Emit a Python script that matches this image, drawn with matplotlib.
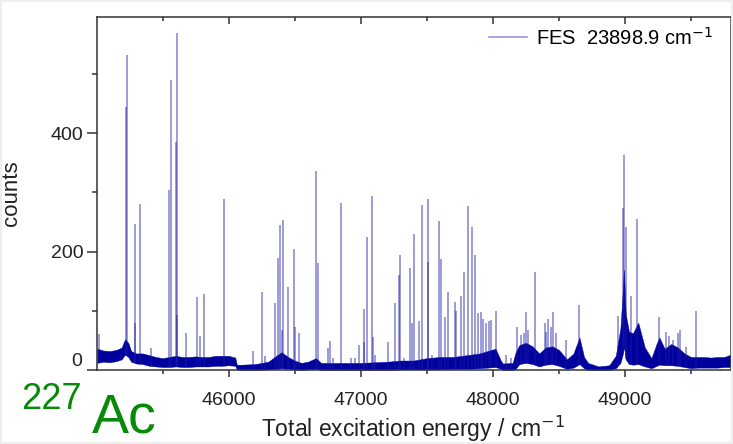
import numpy as np
import matplotlib
matplotlib.use("Agg")
import matplotlib.pyplot as plt
from matplotlib.lines import Line2D
from matplotlib.patches import Rectangle
from matplotlib.ticker import MultipleLocator, FuncFormatter

plt.rcParams['font.family'] = ['Liberation Sans', 'DejaVu Sans']

# ---- data ----
# noise band (envelope of the dense baseline): energy, lower, upper counts
band_x = [45005, 45050, 45100, 45150, 45190, 45215, 45240, 45262, 45300, 45350,
          45400, 45450, 45500, 45550, 45600, 45650, 45700, 45750, 45800, 45850,
          45900, 45950, 46000, 46050, 46062, 46100, 46200, 46300, 46360, 46400,
          46450, 46500, 46550, 46600, 46660, 46700, 46800, 46900, 47000, 47100,
          47200, 47300, 47400, 47500, 47600, 47700, 47800, 47900, 47960, 48020,
          48060, 48075, 48150, 48172, 48200, 48250, 48300, 48350, 48400, 48450,
          48500, 48560, 48610, 48655, 48690, 48720, 48800, 48880, 48930, 48965,
          48985, 48992, 49005, 49030, 49060, 49100, 49150, 49200, 49240, 49260,
          49300, 49350, 49400, 49450, 49500, 49550, 49600, 49650, 49700, 49750, 49800]
band_lo = [12, 14, 13, 15, 18, 26, 22, 14, 11, 10,
           7, 6, 5, 5, 6, 5, 5, 6, 6, 6,
           7, 7, 8, 7, 1, 0, 0, 1, 2, 3,
           2, 1, 0, 1, 2, 0, 0, 0, 0, 0,
           0, 1, 1, 1, 1, 2, 2, 3, 4, 5,
           2, 0, 0, 2, 10, 12, 10, 6, 9, 10,
           7, 2, 4, 10, 3, 0, 0, 0, 3, 12,
           28, 40, 18, 10, 9, 10, 6, 3, 7, 9,
           8, 8, 7, 5, 3, 4, 4, 4, 4, 5, 5]
band_hi = [36, 33, 32, 34, 38, 52, 46, 32, 28, 28,
           25, 22, 20, 22, 24, 22, 22, 23, 22, 22,
           24, 24, 24, 21, 9, 9, 10, 14, 24, 30,
           22, 16, 12, 14, 20, 12, 12, 12, 12, 13,
           14, 16, 16, 20, 22, 22, 25, 28, 32, 36,
           16, 11, 12, 30, 42, 46, 40, 28, 38, 40,
           34, 18, 28, 55, 22, 12, 6, 8, 24, 70,
           140, 170, 95, 65, 62, 80, 38, 20, 45, 55,
           36, 44, 38, 28, 22, 22, 22, 21, 22, 22, 26]

# individual lines: energy (cm-1) and peak counts
peak_x = [45020, 45225, 45228, 45291, 45294, 45326, 45412, 45551, 45560, 45603,
          45606, 45612, 45677, 45760, 45780, 45813, 45967, 46186, 46252, 46272,
          46347, 46373, 46388, 46400, 46411, 46449, 46494, 46500, 46534, 46663,
          46676, 46755, 46768, 46788, 46852, 46928, 46958, 46983, 47021, 47028,
          47048, 47086, 47090, 47106, 47203, 47258, 47288, 47298, 47330, 47376,
          47390, 47405, 47444, 47467, 47508, 47512, 47540, 47593, 47608, 47636,
          47661, 47714, 47720, 47762, 47784, 47812, 47840, 47865, 47888, 47908,
          47926, 47949, 47971, 47987, 48027, 48100, 48135, 48181, 48216, 48232,
          48249, 48263, 48317, 48393, 48403, 48420, 48438, 48455, 48475, 48555,
          48654, 48950, 48985, 48992, 49005, 49048, 49094, 49257, 49307, 49332,
          49362, 49404, 49414, 49458, 49535]
peak_h = [60, 445, 533, 247, 80, 280, 37, 305, 490, 386,
          570, 93, 62, 123, 58, 128, 289, 32, 132, 24,
          114, 189, 245, 68, 254, 141, 205, 73, 62, 336,
          181, 37, 49, 20, 282, 21, 21, 42, 103, 48,
          224, 294, 56, 25, 48, 113, 160, 195, 20, 173,
          79, 229, 83, 279, 289, 183, 26, 252, 187, 90,
          131, 115, 99, 125, 166, 277, 242, 194, 97, 98,
          86, 79, 82, 84, 100, 25, 20, 73, 59, 62,
          98, 68, 166, 79, 65, 87, 73, 98, 62, 51,
          110, 92, 273, 363, 242, 125, 255, 90, 65, 57,
          51, 62, 67, 39, 100]

legend_label = "FES  23898.9 cm$^{-1}$"
x_label = "Total excitation energy / cm$^{-1}$"
y_label = "counts"

# ---- figure ----
W, H = 733, 444
fig = plt.figure(figsize=(W / 100, H / 100), dpi=100)
fig.patches.append(Rectangle((0, 0), 1, 1, transform=fig.transFigure,
                             fill=False, edgecolor='#eeeeee', lw=3))
ax = fig.add_axes([97.2 / W, 1 - 370 / H, (730.7 - 97.2) / W, (370 - 16.7) / H])

navy = '#00009c'
ax.fill_between(band_x, band_lo, band_hi, color=navy, lw=0.3, edgecolor=navy)
base = np.interp(peak_x, band_x, band_lo)
ax.vlines(peak_x, base, peak_h, color='#1a1aa8', alpha=0.55, lw=1.1)

ax.set_xlim(45005, 49800)
ax.set_ylim(0, 597)
ax.xaxis.set_major_locator(MultipleLocator(1000))
ax.xaxis.set_minor_locator(MultipleLocator(500))
ax.yaxis.set_major_locator(MultipleLocator(200))
ax.yaxis.set_minor_locator(MultipleLocator(100))
# the "0" label sits a little above the axis in the reference: drawn separately
ax.yaxis.set_major_formatter(FuncFormatter(lambda v, p: '' if v == 0 else f'{v:.0f}'))
ax.annotate('0', xy=(0, 0), xycoords='axes fraction', xytext=(-10.5, 6),
            textcoords='offset points', ha='right', va='center',
            fontsize=14, color='#222222')

for s in ax.spines.values():
    s.set_color('#333333')
    s.set_linewidth(1.1)
ax.tick_params(axis='both', which='both', labelsize=14, colors='#333333',
               labelcolor='#222222')
ax.tick_params(axis='y', which='major', direction='out', length=7, width=1.1, pad=3)
ax.tick_params(axis='y', which='minor', direction='out', length=3.5, width=1.1)
ax.tick_params(axis='x', which='major', direction='out', length=5, width=1.1, pad=11,
               top=True)
ax.tick_params(axis='x', which='minor', direction='out', length=3, width=1.1, top=True)
# top ticks point inward
for t in ax.xaxis.get_major_ticks() + ax.xaxis.get_minor_ticks():
    t.tick2line.set_marker(3)

ax.set_ylabel(y_label, fontsize=16, color='#222222')
ax.yaxis.set_label_coords(-0.119, 0.5)
fig.text(413 / W, 1 - 429 / H, x_label, fontsize=16.5, color='#222222',
         ha='center', va='center')

handle = Line2D([], [], color='#8c8ce0', lw=1.1)
ax.legend([handle], [legend_label], loc='upper right', frameon=False,
          fontsize=14.5, handlelength=1.9, handletextpad=0.45,
          bbox_to_anchor=(0.985, 0.995), borderaxespad=0)

fig.text(21 / W, 1 - 409 / H, "227", fontsize=26, color='#078a07',
         ha='left', va='baseline')
fig.text(92 / W, 1 - 432 / H, "Ac", fontsize=40, color='#078a07',
         ha='left', va='baseline')

fig.savefig("out.png", dpi=100)
